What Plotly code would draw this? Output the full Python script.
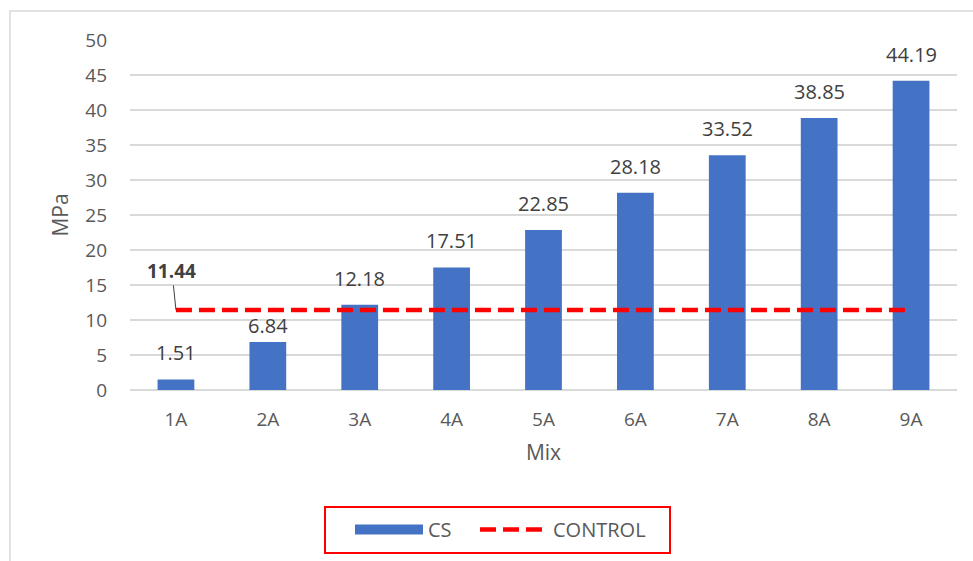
import plotly.graph_objects as go

# Compressive strength per mix
mixes = ["1A", "2A", "3A", "4A", "5A", "6A", "7A", "8A", "9A"]
cs_values = [1.51, 6.84, 12.18, 17.51, 22.85, 28.18, 33.52, 38.85, 44.19]
control_value = 11.44
y_ticks = [0, 5, 10, 15, 20, 25, 30, 35, 40, 45, 50]

FONT = "'Open Sans', 'Noto Sans', sans-serif"
BLUE = "#4472C4"
RED = "#FF0000"
W, H = 973, 561
ML, MR, MT, MB = 130, 16, 40, 171
PW, PH = W - ML - MR, H - MT - MB


def px_x(px):
    return (px - ML) / PW


def px_y(py):
    return (H - MB - py) / PH


fig = go.Figure()

fig.add_trace(go.Bar(
    x=mixes, y=cs_values, name="CS", legendgroup="cs", showlegend=False,
    marker=dict(color=BLUE, line=dict(width=0)),
    width=0.4,
))

# wide block swatch for the CS legend entry
fig.add_trace(go.Scatter(
    x=[None], y=[None], name="CS", legendgroup="cs", legend="legend",
    mode="lines", line=dict(color=BLUE, width=14),
))

fig.add_trace(go.Scatter(
    x=mixes, y=[control_value] * len(mixes), name="CONTROL", legend="legend2",
    mode="lines",
    line=dict(color=RED, width=4.5, dash="16px,7px"),
))

annotations = []
for m, v in zip(mixes, cs_values):
    # keep a label under the control line when it would otherwise cross it
    shift = 1 if v < control_value < v + 5.5 else 11
    annotations.append(dict(
        x=m, y=v, xref="x", yref="y", text=f"{v:.2f}",
        showarrow=False, yanchor="bottom", yshift=shift,
        font=dict(family=FONT, size=20, color="#404040"),
    ))

annotations.append(dict(
    x=mixes[0], y=control_value, xref="x", yref="y",
    text=f"<b>{control_value:.2f}</b>",
    showarrow=True, arrowhead=0, arrowwidth=1, arrowcolor="#404040",
    ax=-4, ay=-39,
    font=dict(family=FONT, size=19, color="#404040"),
))

legend_style = dict(
    orientation="h", xanchor="left",
    y=px_y(510), yanchor="top",
    borderwidth=0, bgcolor="rgba(0,0,0,0)",
    font=dict(family=FONT, size=20, color="#595959"),
    itemwidth=68,
)

fig.update_layout(
    width=W, height=H,
    margin=dict(l=ML, r=MR, t=MT, b=MB),
    paper_bgcolor="white", plot_bgcolor="white",
    font=dict(family=FONT, color="#595959"),
    bargap=0.6,
    showlegend=True,
    legend=dict(x=px_x(350), **legend_style),
    legend2=dict(x=px_x(475), **legend_style),
    annotations=annotations,
    shapes=[
        # chart frame
        dict(
            type="rect", xref="paper", yref="paper",
            x0=px_x(10), x1=px_x(990), y0=px_y(580), y1=px_y(11),
            line=dict(color="#D9D9D9", width=1.5),
            fillcolor="rgba(0,0,0,0)", layer="below",
        ),
        # legend frame
        dict(
            type="rect", xref="paper", yref="paper",
            x0=px_x(325), x1=px_x(670), y0=px_y(553), y1=px_y(507),
            line=dict(color=RED, width=2),
            fillcolor="rgba(0,0,0,0)", layer="below",
        ),
    ],
    xaxis=dict(
        title=dict(text="Mix", font=dict(family=FONT, size=21, color="#595959"), standoff=14),
        tickfont=dict(family=FONT, size=19, color="#595959"),
        showgrid=False, showline=False, zeroline=False,
        ticks="", ticklabelstandoff=16,
    ),
    yaxis=dict(
        title=dict(text="MPa", font=dict(family=FONT, size=21, color="#595959"), standoff=10),
        tickfont=dict(family=FONT, size=19, color="#595959"),
        range=[0, 50], tickvals=y_ticks,
        showgrid=True, gridcolor="#D9D9D9", gridwidth=1.5,
        zeroline=True, zerolinecolor="#D9D9D9", zerolinewidth=1.5,
        showline=False, ticks="", ticklabelstandoff=22,
    ),
)

fig.write_html("out.html")
